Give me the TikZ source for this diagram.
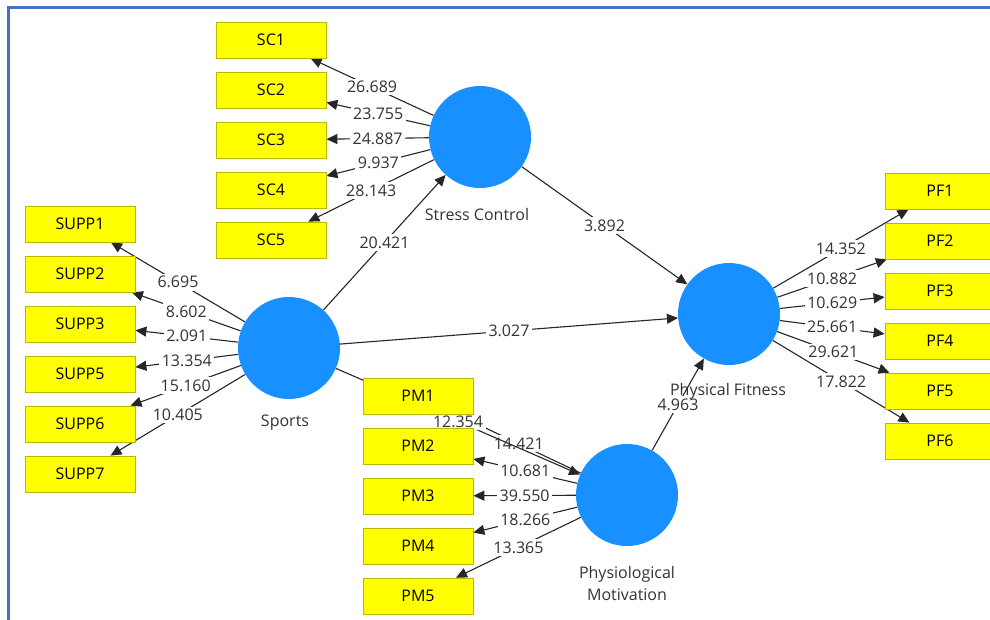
\documentclass[tikz,border=0pt]{standalone}
\usepackage{fontspec}
\setmainfont{Open Sans}
\usetikzlibrary{arrows.meta,backgrounds}
\definecolor{lvblue}{RGB}{24,144,255}
\definecolor{mvyellow}{RGB}{255,255,0}
\definecolor{mvedge}{RGB}{185,185,0}
\definecolor{frameblue}{RGB}{68,114,196}
\tikzset{
  latent/.style = {circle, fill=lvblue, minimum size=102pt, inner sep=0pt},
  item/.style   = {rectangle, draw=mvedge, fill=mvyellow, line width=0.8pt,
                   minimum width=110pt, minimum height=36pt, inner sep=0pt,
                   font=\fontsize{16}{18}\selectfont},
  lvname/.style = {align=center, text=black!80, font=\fontsize{16}{22}\selectfont},
  coef/.style   = {fill=white, inner sep=2.5pt, text=black!80,
                   font=\fontsize{16}{18}\selectfont},
  link/.style   = {-{Triangle[length=11pt,width=10pt]}, line width=1.1pt, draw=black!85},
  frame/.style  = {draw=frameblue, line width=3pt},
}

\begin{document}
\begin{tikzpicture}[x=1pt,y=-1pt]
      \useasboundingbox (0,0) rectangle (990,619);
      \clip (0,0) rectangle (990,619);
      \draw[frame] (8,625) -- (8,7) -- (995,7);

      \node[latent] (sc)     at (480,137) {};
      \node[latent] (sports) at (289,348) {};
      \node[latent] (pf)     at (729,314) {};
      \node[latent] (pm)     at (627,495) {};

      \node[lvname] (scname)     at (477,214) {Stress Control};
      \node[lvname] (sportsname) at (285,423) {Sports};
      \node[lvname] (pfname)     at (728,391) {Physical Fitness};
      \node[lvname] (pmname)     at (627,583) {Physiological\\Motivation};

      \node[item] (sc1) at (271,40)  {SC1};
      \node[item] (sc2) at (271,90)  {SC2};
      \node[item] (sc3) at (271,140) {SC3};
      \node[item] (sc4) at (271,190) {SC4};
      \node[item] (sc5) at (271,240) {SC5};

      \node[item] (supp1) at (80,224) {SUPP1};
      \node[item] (supp2) at (80,274) {SUPP2};
      \node[item] (supp3) at (80,324) {SUPP3};
      \node[item] (supp5) at (80,374) {SUPP5};
      \node[item] (supp6) at (80,424) {SUPP6};
      \node[item] (supp7) at (80,474) {SUPP7};

      \node[item] (pm1) at (418,396) {PM1};
      \node[item] (pm2) at (418,446) {PM2};
      \node[item] (pm3) at (418,496) {PM3};
      \node[item] (pm4) at (418,546) {PM4};
      \node[item] (pm5) at (418,596) {PM5};

      \node[item] (pf1) at (940,191) {PF1};
      \node[item] (pf2) at (940,241) {PF2};
      \node[item] (pf3) at (940,291) {PF3};
      \node[item] (pf4) at (940,341) {PF4};
      \node[item] (pf5) at (940,391) {PF5};
      \node[item] (pf6) at (940,441) {PF6};

      \begin{scope}[on background layer]
      \draw[link] (sc) -- node[coef]{26.689} (sc1);
      \draw[link] (sc) -- node[coef]{23.755} (sc2);
      \draw[link] (sc) -- node[coef]{24.887} (sc3);
      \draw[link] (sc) -- node[coef]{9.937}  (sc4);
      \draw[link] (sc) -- node[coef]{28.143} (sc5);

      \draw[link] (sports) -- node[coef]{6.695}  (supp1);
      \draw[link] (sports) -- node[coef]{8.602}  (supp2);
      \draw[link] (sports) -- node[coef]{2.091}  (supp3);
      \draw[link] (sports) -- node[coef]{13.354} (supp5);
      \draw[link] (sports) -- node[coef]{15.160} (supp6);
      \draw[link] (sports) -- node[coef]{10.405} (supp7);

      \draw[link] (pm) -- node[coef]{14.421} (pm1);
      \draw[link] (pm) -- node[coef]{10.681} (pm2);
      \draw[link] (pm) -- node[coef]{39.550} (pm3);
      \draw[link] (pm) -- node[coef]{18.266} (pm4);
      \draw[link] (pm) -- node[coef]{13.365} (pm5);

      \draw[link] (pf) -- node[coef]{14.352} (pf1);
      \draw[link] (pf) -- node[coef]{10.882} (pf2);
      \draw[link] (pf) -- node[coef]{10.629} (pf3);
      \draw[link] (pf) -- node[coef]{25.661} (pf4);
      \draw[link] (pf) -- node[coef]{29.621} (pf5);
      \draw[link] (pf) -- node[coef]{17.822} (pf6);

      \draw[link] (sports) -- node[coef]{20.421} (sc);
      \draw[link] (sc)     -- node[coef]{3.892}  (pf);
      \draw[link] (sports) -- node[coef]{3.027}  (pf);
      \draw[link] (sports) -- node[coef]{12.354} (pm);
      \draw[link] (pm)     -- node[coef]{4.963}  (pf);
      \end{scope}
    \end{tikzpicture}
\end{document}
